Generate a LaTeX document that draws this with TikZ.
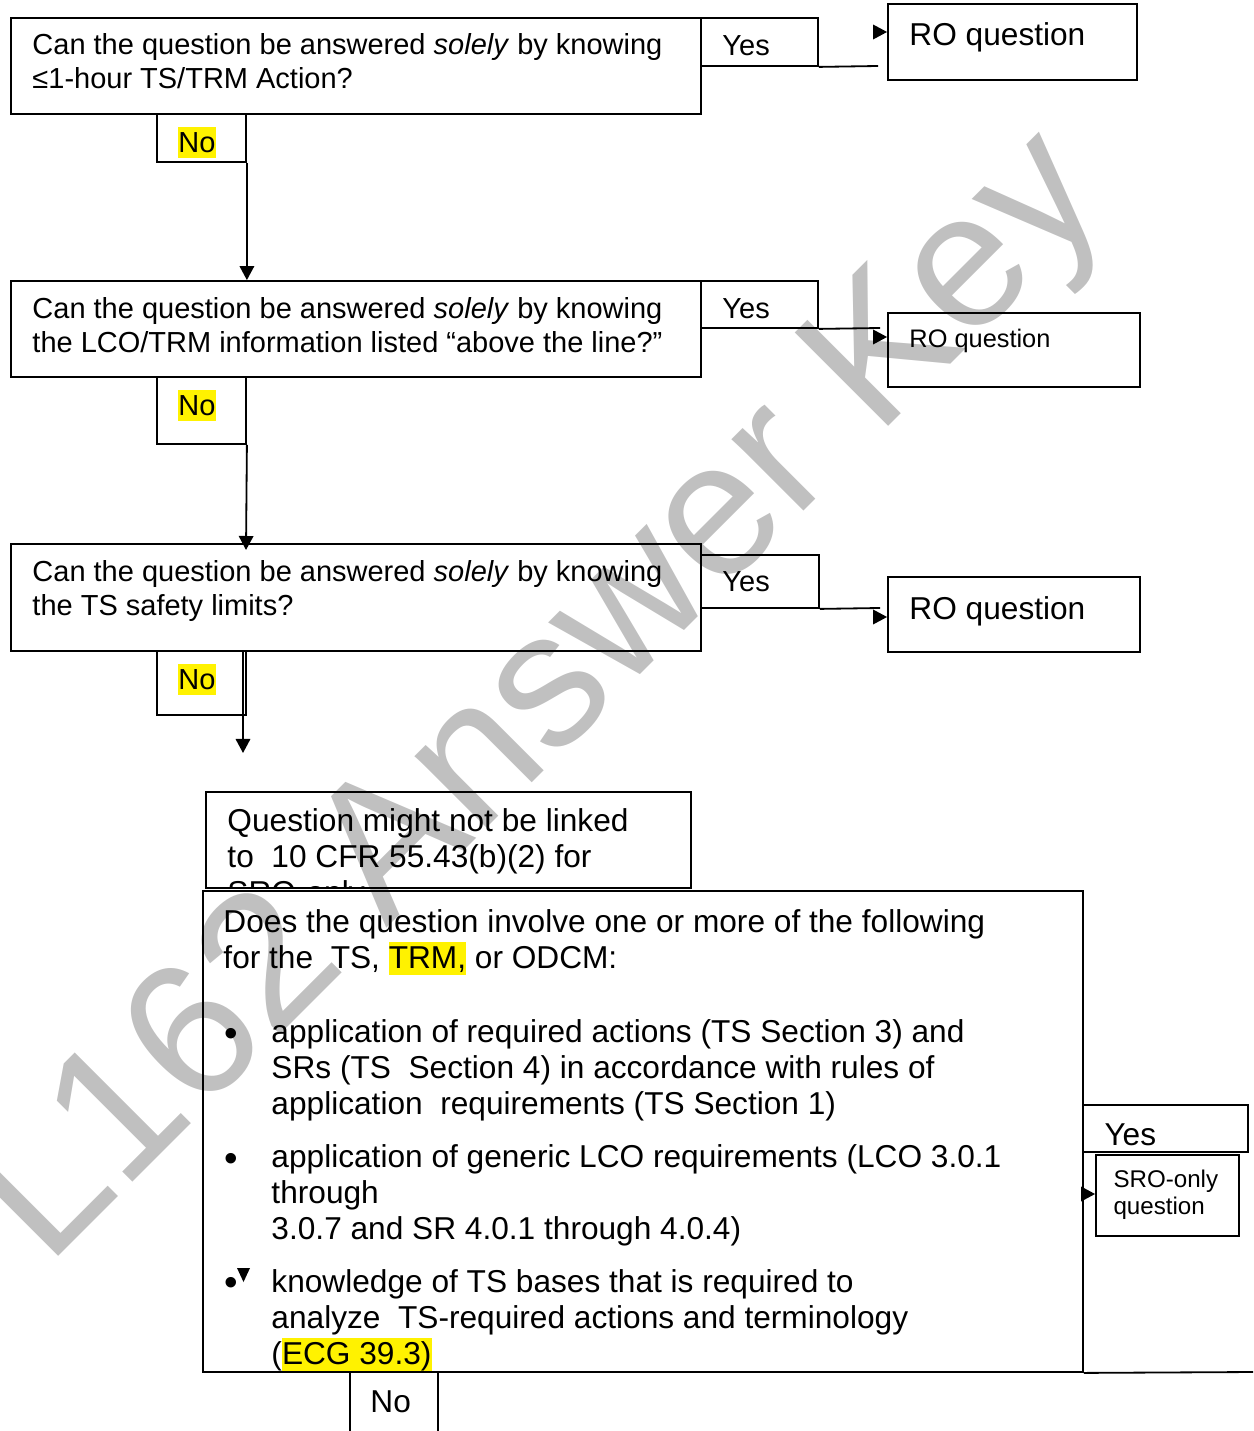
\documentclass[tikz,border=0pt]{standalone}
\usepackage{fontspec}
\setmainfont{Liberation Sans}
\usepackage{xcolor}
\usepackage{tikz}
\usetikzlibrary{arrows.meta, fit}

\definecolor{wmgray}{RGB}{192,192,192}
\newcommand{\hilite}[1]{{\setlength{\fboxsep}{0pt}\colorbox{yellow}{\rule[-0.2em]{0pt}{1.05em}#1}}}

\begin{document}
\begin{tikzpicture}[x=0.414pt, y=-0.414pt, font=\fontsize{12}{14}\selectfont,
  box/.style={draw, line width=0.75pt, inner sep=0pt},
  txt/.style={anchor=north west, inner sep=0pt, align=left},
  big/.style={txt, font=\fontsize{13.1}{15}\selectfont},
  small/.style={txt, font=\fontsize{10.5}{12.5}\selectfont},
  dot/.style={inner sep=0pt, font=\fontsize{16}{16}\selectfont},
  link/.style={line width=0.75pt},
  tip/.style={-{Triangle[length=5.8pt,width=6pt]}, line width=0.75pt}]
\useasboundingbox (0,0) rectangle (1253,1431);
\node[anchor=base west, inner sep=0pt, rotate=45, text=wmgray, font=\fontsize{79.5}{80}\selectfont] (wm) at (47,1268) {L162 Answer Key};

\node[box, fit={(11,18) (701,114)}] (q1) {};
\node[box, fit={(701,18) (818,66)}] (y1) {};
\node[box, fit={(888,4) (1137,80)}] (r1) {};
\node[box, fit={(157,114) (246,162)}] (n1) {};
\node[txt] (q1t) at (32,33) {Can the question be answered \textit{solely} by knowing\\ ≤1-hour TS/TRM Action?};
\node[txt] (y1t) at (722,35) {Yes};
\node[big] (r1t) at (909,22) {RO question};
\node[txt] (n1t) at (178,127) {\hilite{No}};

\node[box, fit={(11,281) (701,377)}] (q2) {};
\node[box, fit={(701,281) (818,328)}] (y2) {};
\node[box, fit={(888,313) (1140,387)}] (r2) {};
\node[box, fit={(157,377) (246,444)}] (n2) {};
\node[txt] (q2t) at (32,297) {Can the question be answered \textit{solely} by knowing\\ the LCO/TRM information listed “above the line?”};
\node[txt] (y2t) at (722,298) {Yes};
\node[small] (r2t) at (909,329) {RO question};
\node[txt] (n2t) at (178,390) {\hilite{No}};

\node[box, fit={(11,544) (701,651)}] (q3) {};
\node[box, fit={(701,555) (819,608)}] (y3) {};
\node[box, fit={(888,577) (1140,652)}] (r3) {};
\node[box, fit={(157,651) (246,715)}] (n3) {};
\node[txt] (q3t) at (32,560) {Can the question be answered \textit{solely} by knowing\\ the TS safety limits?};
\node[txt] (y3t) at (722,571) {Yes};
\node[big] (r3t) at (909,596) {RO question};
\node[txt] (n3t) at (178,664) {\hilite{No}};

\coordinate (e1) at (878,66);
\coordinate (e2) at (880,328);
\coordinate (e3) at (880,608);
\foreach \n/\y in {1/32, 2/337, 3/617} {
\draw[link] (y\n.south east) -- (e\n);
\coordinate (a\n) at (874,\y);
\draw[tip] (a\n) -- (a\n -| r\n.west);
}
\coordinate (c2) at (246,550);
\coordinate (c3) at (243,753);
\draw[tip] (n1.south east) -- (n1.east |- q2.north);
\draw[tip] (n2.south east) -- (c2);
\draw[tip] (c3 |- q3.south) -- (c3);

\node[box, fit={(206,792) (691,888)}] (lk) {};
\begin{scope}
\clip (206,792) rectangle (691,888);
\node[big] (lkt) at (227,808) {Question might not be linked\\ to\ \ 10 CFR 55.43(b)(2) for\\ SRO-only};
\end{scope}

\node[box, fit={(203,891) (1083,1372)}] (q4) {};
\node[big] (q4t) at (223,909) {Does the question involve one or more of the following\\ for the\ \ TS, \hilite{TRM,} or ODCM:};
\node[big] (i1) at (271,1019) {application of required actions (TS Section 3) and\\ SRs (TS\ \ Section 4) in accordance with rules of\\ application\ \ requirements (TS Section 1)};
\node[big] (i2) at (271,1144) {application of generic LCO requirements (LCO 3.0.1\\ through\\ 3.0.7 and SR 4.0.1 through 4.0.4)};
\node[big] (i3) at (271,1269) {knowledge of TS bases that is required to\\ analyze\ \ TS-required actions and terminology\\ (\hilite{ECG 39.3)}};
\foreach \n/\y in {1/1037, 2/1162, 3/1286}
\node[dot] (d\n) at (231,\y) {•};
\fill (237,1268) -- (250,1268) -- (243.5,1282) -- cycle;

\node[box, fit={(1083,1105) (1248,1152)}] (y4) {};
\node[box, fit={(1096,1155) (1239,1236)}] (sro) {};
\node[big] (y4t) at (1104,1123) {Yes};
\node[txt, font=\fontsize{10}{10.8}\selectfont] (srot) at (1113,1170) {SRO-only\\ question};
\coordinate (a4) at (1082,1194);
\draw[tip] (a4) -- (a4 -| sro.west);

\node[box, fit={(350,1372) (438,1445)}] (n4) {};
\node[big] (n4t) at (370,1390) {No};
\coordinate (rim) at (1253,1372);
\draw[link] (q4.south east) -- (rim);
\end{tikzpicture}
\end{document}
